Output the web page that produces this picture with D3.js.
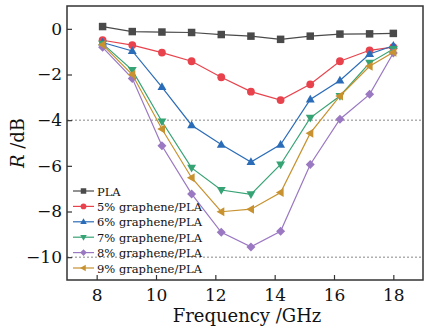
<!DOCTYPE html>
<html>
<head>
<meta charset="utf-8">
<script src="https://cdn.jsdelivr.net/npm/d3@7"></script>
<style>
  body { margin: 0; background: #fff; }
  svg { display: block; }
  text { font-family: "DejaVu Serif", serif; fill: #111; }
</style>
</head>
<body>
<svg id="chart"></svg>
<script>
// frequency points (GHz)
const freq = [8.2, 9.2, 10.2, 11.2, 12.2, 13.2, 14.2, 15.2, 16.2, 17.2, 18]

const pla = [0.1, -0.12, -0.14, -0.16, -0.25, -0.32, -0.46, -0.32, -0.23, -0.22, -0.2]
const g5 = [-0.5, -0.71, -1.04, -1.42, -2.12, -2.75, -3.12, -2.43, -1.42, -0.94, -0.8]
const g6 = [-0.6, -0.97, -2.55, -4.22, -5.07, -5.83, -5.07, -3.09, -2.26, -1.1, -0.74]
const g7 = [-0.65, -1.81, -4.06, -6.09, -7.06, -7.25, -5.94, -3.9, -2.94, -1.49, -0.88]
const g8 = [-0.81, -2.17, -5.12, -7.23, -8.91, -9.55, -8.87, -5.94, -3.96, -2.87, -1.06]
const g9 = [-0.7, -2.0, -4.39, -6.52, -8.01, -7.9, -7.17, -4.57, -2.94, -1.64, -1.03]

const names = ['PLA', '5% graphene/PLA', '6% graphene/PLA', '7% graphene/PLA', '8% graphene/PLA', '9% graphene/PLA']
const seriesVals = [pla, g5, g6, g7, g8, g9]
const colors = ['#4a4a4a', '#e8434d', '#2b6cb8', '#36a374', '#9a78c2', '#c7922f']
const shapes = ['square', 'circle', 'up', 'down', 'diamond', 'left']

const xTicks = [8, 10, 12, 14, 16, 18]
const yTicks = [0, -2, -4, -6, -8, -10]
const refLines = [-4, -10]

const W = 430, H = 328
const margin = { top: 6, right: 7, bottom: 48, left: 67 }
const width = W - margin.left - margin.right
const height = H - margin.top - margin.bottom

const svg = d3.select('#chart').attr('width', W).attr('height', H)
const g = svg.append('g').attr('transform', `translate(${margin.left},${margin.top})`)

const x = d3.scaleLinear().domain([7, 19]).range([0, width])
const y = d3.scaleLinear().domain([-11, 1]).range([height, 0])

// dotted reference lines
g.selectAll('.ref')
  .data(refLines)
  .enter()
  .append('line')
  .attr('x1', 0)
  .attr('x2', width)
  .attr('y1', (d) => y(d))
  .attr('y2', (d) => y(d))
  .attr('stroke', '#888')
  .attr('stroke-width', 1)
  .attr('stroke-dasharray', '2,2')

function markerPath(shape, s) {
  const h = s / 2
  if (shape === 'square') return `M${-h},${-h}H${h}V${h}H${-h}Z`
  if (shape === 'circle') return d3.symbol(d3.symbolCircle, s * s * 0.85)()
  if (shape === 'diamond') return `M0,${-h * 1.2}L${h * 1.2},0L0,${h * 1.2}L${-h * 1.2},0Z`
  const r = h * 1.25
  if (shape === 'up') return `M0,${-r}L${r * 0.95},${r * 0.65}L${-r * 0.95},${r * 0.65}Z`
  if (shape === 'down') return `M0,${r}L${r * 0.95},${-r * 0.65}L${-r * 0.95},${-r * 0.65}Z`
  if (shape === 'left') return `M${-r},0L${r * 0.65},${-r * 0.95}L${r * 0.65},${r * 0.95}Z`
}

const line = d3
  .line()
  .x((d, i) => x(freq[i]))
  .y((d) => y(d))

seriesVals.forEach((vals, k) => {
  g.append('path')
    .datum(vals)
    .attr('d', line)
    .attr('fill', 'none')
    .attr('stroke', colors[k])
    .attr('stroke-width', 1.2)

  g.selectAll('.m' + k)
    .data(vals)
    .enter()
    .append('path')
    .attr('d', markerPath(shapes[k], 7.5))
    .attr('transform', (d, i) => `translate(${x(freq[i])},${y(d)})`)
    .attr('fill', colors[k])
})

// axes with inward ticks
const xAxis = d3.axisBottom(x).tickValues(xTicks).tickSizeInner(-5).tickSizeOuter(0).tickPadding(9)
const yAxis = d3
  .axisLeft(y)
  .tickValues(yTicks)
  .tickSizeInner(-5)
  .tickSizeOuter(0)
  .tickPadding(5)
  .tickFormat((d) => (d < 0 ? '\u2212' + Math.abs(d) : d))

const gx = g.append('g').attr('transform', `translate(0,${height})`).call(xAxis)
const gy = g.append('g').call(yAxis)
;[gx, gy].forEach((a) => {
  a.select('.domain').remove()
  a.selectAll('line').attr('stroke', '#333').attr('stroke-width', 1.2)
  a.selectAll('text').style('font-family', '"DejaVu Serif", serif').style('font-size', '17px').attr('fill', '#111')
})

// frame
g.append('rect')
  .attr('width', width)
  .attr('height', height)
  .attr('fill', 'none')
  .attr('stroke', '#333')
  .attr('stroke-width', 1.5)

// axis labels
svg.append('text')
  .attr('x', margin.left + width / 2 + 2)
  .attr('y', H - 6)
  .attr('text-anchor', 'middle')
  .style('font-size', '18px')
  .text('Frequency /GHz')

const yl = svg.append('text')
  .attr('transform', `translate(24,${margin.top + height / 2}) rotate(-90)`)
  .attr('text-anchor', 'middle')
  .style('font-size', '18px')
yl.append('tspan').attr('font-style', 'italic').text('R')
yl.append('tspan').text(' /dB')

// legend
const leg = g.append('g').attr('transform', 'translate(6,185)')
names.forEach((n, k) => {
  const row = leg.append('g').attr('transform', `translate(0,${k * 15.4})`)
  row.append('line').attr('x1', 0).attr('x2', 21).attr('stroke', colors[k]).attr('stroke-width', 1.2)
  row.append('path').attr('d', markerPath(shapes[k], 5.5)).attr('transform', 'translate(10.5,0)').attr('fill', colors[k])
  row.append('text')
    .attr('x', 24)
    .attr('y', 4.5)
    .style('font-size', '11.5px')
    .text(n)
})
</script>
</body>
</html>
